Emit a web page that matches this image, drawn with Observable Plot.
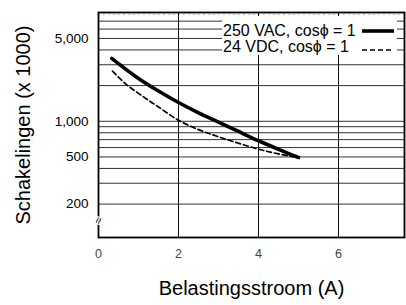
<!DOCTYPE html>
<html>
<head>
<meta charset="utf-8">
<script src="https://cdn.jsdelivr.net/npm/d3@7"></script>
<script src="https://cdn.jsdelivr.net/npm/@observablehq/plot@0.6"></script>
<style>
  html, body { margin: 0; padding: 0; background: #fff; }
  #wrap { position: relative; width: 406px; height: 305px; font-family: "Liberation Sans", Arial, Helvetica, sans-serif; }
  #legend { position: absolute; left: 222px; top: 16px; width: 175px; height: 39px; background: #fff; font-size: 16px; color: #000; }
  .row { position: absolute; left: 1px; height: 16px; line-height: 16px; white-space: nowrap; }
  .row svg { position: absolute; }
</style>
</head>
<body>
<div id="wrap"></div>
<script>
// Series: load current (A) vs number of operations (x 1000)
const acCurrent = [0.33, 1, 1.5, 2, 2.5, 3, 3.5, 4, 4.5, 5];
const acOps     = [3400, 2300, 1800, 1440, 1180, 985, 820, 685, 580, 495];
const dcCurrent = [0.35, 0.7, 1, 1.5, 2, 2.5, 3, 3.5, 4, 4.5, 4.9];
const dcOps     = [2650, 2040, 1720, 1320, 1020, 850, 740, 653, 582, 530, 500];

const seriesNames = ["250 VAC, cos\u03D5 = 1", "24 VDC, cos\u03D5 = 1"];

// Axes
const xTicks = [0, 2, 4, 6];
const xGrid = [2, 4, 6];
const yTicks = [200, 500, 1000, 5000];
const yGrid = [200, 300, 400, 500, 600, 700, 800, 900, 1000, 2000, 3000, 4000, 5000, 6000, 7000];
const yGridFaint = [8000];
const xDomain = [0, 7.65];
const yDomain = [104.5, 8280];
const axisBreak = [{x: 0, y: 145}];
const xLabel = "Belastingsstroom (A)";
const yLabel = "Schakelingen (x 1000)";

const ac = acCurrent.map((x, i) => ({x, y: acOps[i]}));
const dc = dcCurrent.map((x, i) => ({x, y: dcOps[i]}));

const font = "Liberation Sans, Arial, Helvetica, sans-serif";

const chart = Plot.plot({
  width: 406,
  height: 305,
  marginLeft: 98,
  marginRight: 2,
  marginTop: 12,
  marginBottom: 68,
  style: {fontFamily: font, background: "#fff", color: "#000"},
  x: {domain: xDomain, ticks: xTicks, label: null},
  y: {type: "log", domain: yDomain, ticks: yTicks, label: null, tickFormat: d3.format(",")},
  marks: [
    Plot.ruleY(yGrid, {stroke: "#333", strokeWidth: 1}),
    Plot.ruleY(yGridFaint, {stroke: "#bbb", strokeWidth: 1, strokeDasharray: "2,3"}),
    Plot.ruleX(xGrid, {stroke: "#111", strokeWidth: 1}),
    Plot.frame({stroke: "#000", strokeWidth: 1.8}),
    Plot.axisY({ticks: yTicks, tickSize: 0, tickPadding: 10, fontSize: 13.5, tickFormat: d3.format(","), label: null}),
    Plot.axisX({ticks: xTicks, tickSize: 0, tickPadding: 12, fontSize: 12.5, fill: "#444", label: null}),
    Plot.line(dc, {x: "x", y: "y", stroke: "#000", strokeWidth: 1.7, strokeDasharray: "5,3", curve: "monotone-x"}),
    Plot.line(ac, {x: "x", y: "y", stroke: "#000", strokeWidth: 3.6, curve: "monotone-x"}),
    Plot.text(axisBreak, {x: "x", y: "y", text: () => "\u2248", rotate: -70, fontSize: 12, fill: "#000", stroke: "#fff", strokeWidth: 2, paintOrder: "stroke"}),
    Plot.text([xLabel], {frameAnchor: "bottom", dy: 57, fontSize: 20, fill: "#000"}),
    Plot.text([yLabel], {frameAnchor: "left", textAnchor: "middle", dx: -75, rotate: -90, fontSize: 20, fill: "#000"})
  ]
});

const wrap = document.getElementById("wrap");
wrap.appendChild(chart);

// Legend overlay (inside plot, top-right, white box)
const legend = document.createElement("div");
legend.id = "legend";
legend.innerHTML =
  `<div class="row" style="top:7px">${seriesNames[0]}` +
  `<svg width="34" height="6" style="left:139px;top:5px"><line x1="0" y1="3" x2="32" y2="3" stroke="#000" stroke-width="3.6"/></svg></div>` +
  `<div class="row" style="top:23px">${seriesNames[1]}` +
  `<svg width="34" height="6" style="left:139px;top:8px"><line x1="0" y1="3" x2="32" y2="3" stroke="#000" stroke-width="1.7" stroke-dasharray="5,3"/></svg></div>`;
wrap.appendChild(legend);
</script>
</body>
</html>
